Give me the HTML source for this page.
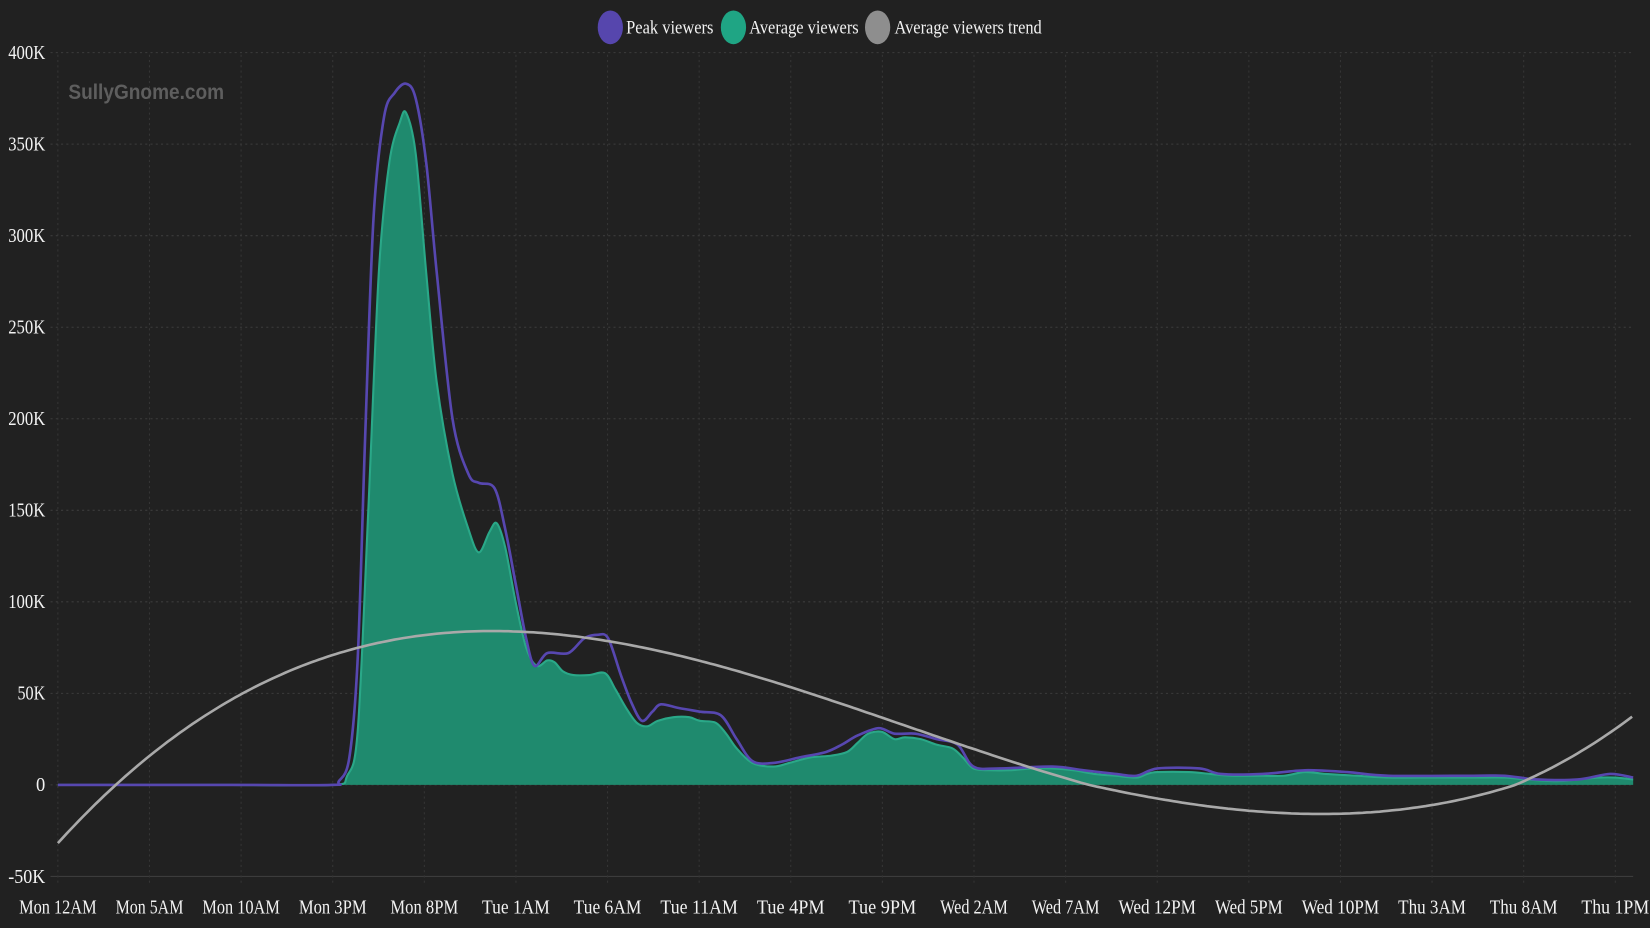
<!DOCTYPE html>
<html><head><meta charset="utf-8"><style>
html,body{margin:0;padding:0;background:#212121;}
svg{display:block;}
text{font-family:"Liberation Serif",serif;fill:#f2f2f2;}
</style></head><body>
<svg id="s" width="1650" height="928" viewBox="0 0 1568 882" preserveAspectRatio="none" xmlns="http://www.w3.org/2000/svg">
<rect width="1568" height="882" fill="#212121"/>
<g id="grid"></g>
<text x="65" y="94" font-weight="bold" font-size="20" style="fill:#5e5e5e;font-family:'Liberation Sans',sans-serif" textLength="148" lengthAdjust="spacingAndGlyphs">SullyGnome.com</text>
<path id="avgF" fill="#1f8a6e" stroke="none"/>
<path id="avgL" fill="none" stroke="#2aa888" stroke-width="2"/>
<path id="peakL" fill="none" stroke="#5747b0" stroke-width="2.5"/>
<path id="trend" fill="none" stroke="#a9a9a9" stroke-width="2.5"/>
<g id="labels"></g>
<g>
<ellipse cx="580" cy="26" rx="12" ry="16" fill="#5646ad"/>
<text x="595" y="32" font-size="18" textLength="83" lengthAdjust="spacingAndGlyphs">Peak viewers</text>
<ellipse cx="697" cy="26" rx="12" ry="16" fill="#1fa584"/>
<text x="712" y="32" font-size="18" textLength="104" lengthAdjust="spacingAndGlyphs">Average viewers</text>
<ellipse cx="834" cy="26" rx="12" ry="16" fill="#8e8e8e"/>
<text x="850" y="32" font-size="18" textLength="140" lengthAdjust="spacingAndGlyphs">Average viewers trend</text>
</g>
</svg>
<script>
const NS="http://www.w3.org/2000/svg";
const Y=v=>746-v*1.74;
function cr(pts){let d="M"+pts[0][0]+","+pts[0][1];for(let i=0;i<pts.length-1;i++){const p0=pts[i-1]||pts[i],p1=pts[i],p2=pts[i+1],p3=pts[i+2]||p2;const t=0.16;d+=" C"+(p1[0]+(p2[0]-p0[0])*t)+","+(p1[1]+(p2[1]-p0[1])*t)+" "+(p2[0]-(p3[0]-p1[0])*t)+","+(p2[1]-(p3[1]-p1[1])*t)+" "+p2[0]+","+p2[1];}return d;}
const avg=[[55,0],[220,0],[315,0],[330,5],[340,30],[350,150],[360,280],[370,340],[380,362],[386,367],[395,345],[405,280],[415,220],[430,170],[445,140],[455,127],[465,138],[472,143],[480,130],[490,100],[500,75],[510,65],[520,68],[527,67],[535,62],[545,60],[560,60],[575,61],[585,52],[595,42],[605,34],[615,32],[625,35],[640,37],[655,37],[665,35],[680,34],[690,28],[700,20],[715,12],[735,10],[750,12],[770,15],[790,16],[805,18],[815,23],[825,28],[838,29],[850,25],[860,26],[875,25],[890,22],[905,20],[915,15],[925,9],[940,8],[960,8],[980,9],[1000,9],[1020,8],[1040,6],[1060,5],[1080,4],[1090,6],[1100,7],[1130,7],[1150,6],[1170,5],[1200,5],[1220,5],[1240,7],[1260,6],[1290,5],[1320,4],[1350,4],[1400,4],[1430,4],[1450,3],[1480,2],[1500,3],[1520,4],[1535,4],[1552,3]].map(p=>[p[0],Y(p[1])]);
const peak=[[55,0],[220,0],[315,0],[322,2],[332,15],[340,70],[347,190],[355,310],[365,365],[375,378],[386,383],[395,375],[405,340],[415,280],[430,200],[445,170],[455,165],[470,162],[480,140],[490,110],[500,80],[508,65],[520,72],[540,72],[555,80],[568,82],[578,80],[590,60],[600,45],[610,35],[620,40],[628,44],[645,42],[665,40],[685,38],[700,25],[715,13],[735,12],[760,15],[785,18],[800,22],[815,27],[835,31],[850,28],[870,28],[890,25],[910,22],[925,10],[950,9],[1000,10],[1030,8],[1060,6],[1080,5],[1100,9],[1140,9],[1160,6],[1200,6],[1240,8],[1280,7],[1320,5],[1400,5],[1430,5],[1460,3],[1500,3],[1530,6],[1552,4]].map(p=>[p[0],Y(p[1])]);
let td="";for(let x=55;x<=1552;x+=4){const v=4.26e-7*(x-110)*(x-1035)*(x-1440);const vv=(v<0&&x>600)?v*0.8:(x>1440?v*1.06:v);td+=(x==55?"M":" L")+x+","+Y(vv).toFixed(1);}
document.getElementById("avgF").setAttribute("d",cr(avg)+" L1552,746 L55,746 Z");
document.getElementById("avgL").setAttribute("d",cr(avg));
document.getElementById("peakL").setAttribute("d",cr(peak));
document.getElementById("trend").setAttribute("d",td);
const g=document.getElementById("grid"),L=document.getElementById("labels");
function el(p,t,a,txt){const e=document.createElementNS(NS,t);for(const k in a)e.setAttribute(k,a[k]);if(txt)e.textContent=txt;p.appendChild(e);return e;}
const yl=["400K","350K","300K","250K","200K","150K","100K","50K","0","-50K"];
yl.forEach((s,i)=>{const v=400-50*i,y=Y(v);
 el(g,"line",{x1:48,x2:1552,y1:y,y2:y,stroke:"#3c3c3c","stroke-width":1,"stroke-dasharray":v==-50?"":"2,3"});
 el(L,"text",{x:43,y:y+6,"font-size":19,"text-anchor":"end",textLength:s.length*8.8,lengthAdjust:"spacingAndGlyphs"},s);});
const xl=["Mon 12AM","Mon 5AM","Mon 10AM","Mon 3PM","Mon 8PM","Tue 1AM","Tue 6AM","Tue 11AM","Tue 4PM","Tue 9PM","Wed 2AM","Wed 7AM","Wed 12PM","Wed 5PM","Wed 10PM","Thu 3AM","Thu 8AM","Thu 1PM"];
xl.forEach((s,i)=>{const x=55+i*87.06;
 el(g,"line",{x1:x,x2:x,y1:52,y2:840,stroke:"#353535","stroke-width":1,"stroke-dasharray":"2,3"});
 el(L,"text",{x:x,y:868,"font-size":19,"text-anchor":"middle",textLength:s.length*9.2,lengthAdjust:"spacingAndGlyphs"},s);});
</script>
</body></html>
